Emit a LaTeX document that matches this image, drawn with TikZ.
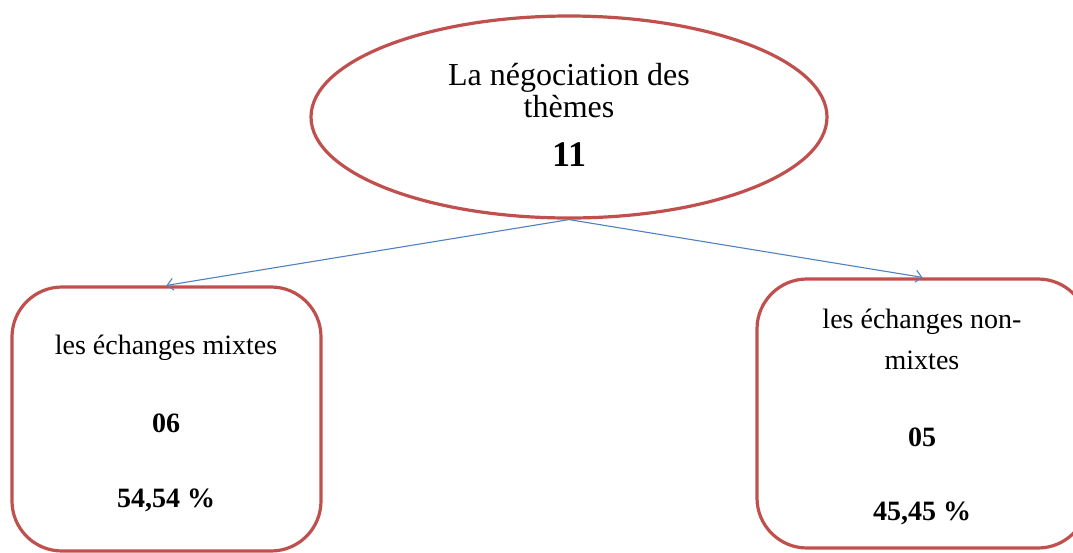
\documentclass[tikz,border=0pt]{standalone}
\usepackage{fontspec}
\setmainfont{Liberation Serif}
\usetikzlibrary{shapes.geometric,arrows.meta}
\definecolor{boxred}{RGB}{192,80,77}
\definecolor{linkblue}{RGB}{79,129,189}
\tikzset{
  outline/.style={draw=boxred, line width=3.2pt},
  roundbox/.style={outline, rectangle, rounded corners=50pt, inner sep=0pt},
  link/.style={draw=linkblue, line width=1.1pt, -{Straight Barb[length=6pt,width=12pt]}},
  headtxt/.style={inner sep=0pt, font=\fontsize{32}{36}\selectfont},
  boxtxt/.style={inner sep=0pt, font=\fontsize{28}{32}\selectfont},
  bigbold/.style={inner sep=0pt, font=\fontsize{36}{40}\selectfont\bfseries},
  numbold/.style={inner sep=0pt, font=\fontsize{28}{32}\selectfont\bfseries}
}
\begin{document}
\begin{tikzpicture}[x=1pt,y=-1pt]
\useasboundingbox (0,0) rectangle (1073,552);
\node[outline, ellipse, minimum width=516pt, minimum height=202pt, inner sep=0pt] (e) at (569,117) {};
\node[headtxt] (e1) at (569,78) {La négociation des};
\node[headtxt] (e2) at (569,107) {thèmes};
\node[bigbold] (e3) at (569,155) {11};
\node[roundbox, minimum width=309pt, minimum height=264pt] (l) at (166.5,419) {};
\node[boxtxt] (l1) at (166,348) {les échanges mixtes};
\node[numbold] (l2) at (166,423) {06};
\node[numbold] (l3) at (166,500) {54,54 \%};
\node[roundbox, minimum width=331pt, minimum height=269pt] (r) at (922.5,413.5) {};
\node[boxtxt] (r1) at (922,322) {les échanges non-};
\node[boxtxt] (r2) at (922,360) {mixtes};
\node[numbold] (r3) at (922,437) {05};
\node[numbold] (r4) at (922,513) {45,45 \%};
\draw[link] (e.south) -- (l.north);
\draw[link] (e.south) -- (r.north);
\end{tikzpicture}
\end{document}
